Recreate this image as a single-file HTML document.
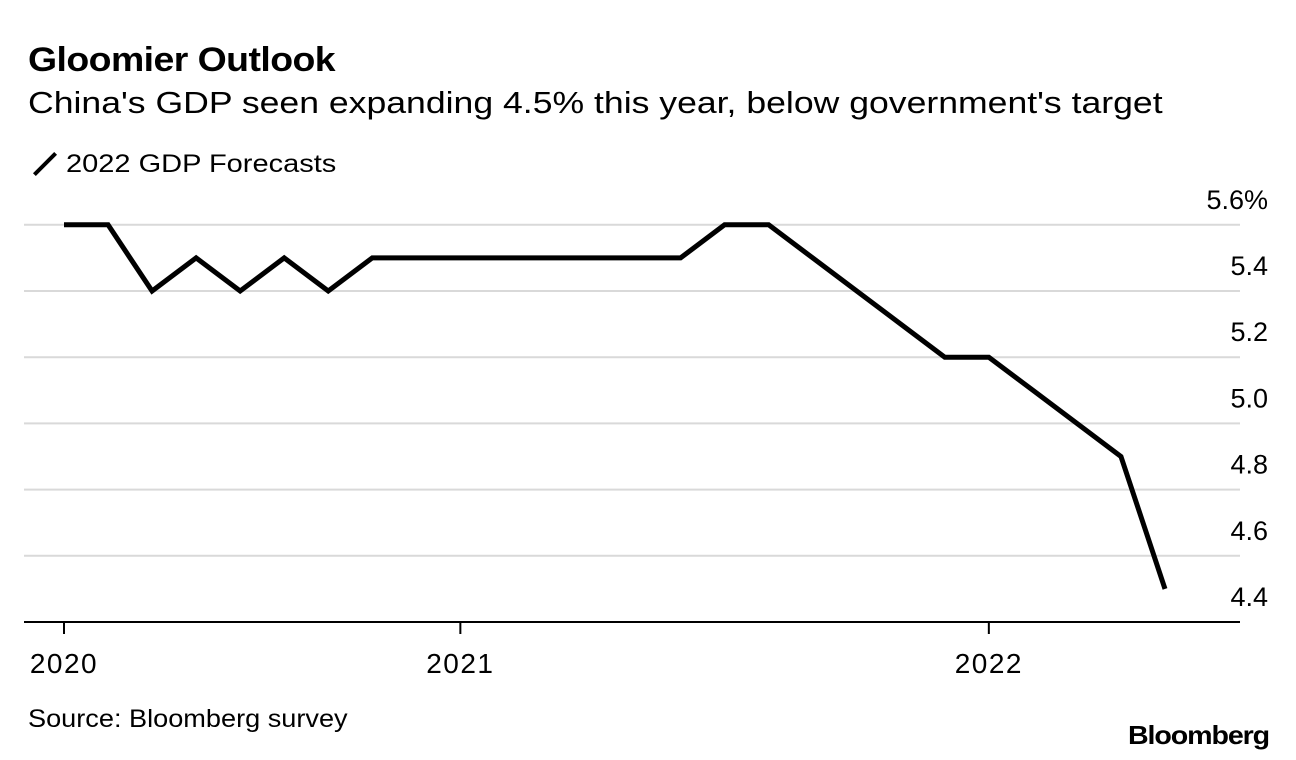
<!DOCTYPE html>
<html><head><meta charset="utf-8"><style>
body{margin:0;background:#fff;font-family:"Liberation Sans",Arial,sans-serif;}
#c{position:relative;width:1296px;height:760px;overflow:hidden;}
.t{position:absolute;white-space:nowrap;color:#000;transform-origin:0 0;}
</style></head><body>
<div id="c">
<div class="t" style="left:28px;top:41px;font-size:34px;font-weight:bold;letter-spacing:-0.5px;transform:scaleX(1.1)">Gloomier Outlook</div>
<div class="t" style="left:28px;top:85px;font-size:31px;transform:scaleX(1.148)">China's GDP seen expanding 4.5% this year, below government's target</div>
<div class="t" style="left:30px;top:162px;width:30px;height:4px;background:#000;transform:rotate(-45deg);transform-origin:50% 50%"></div>
<div class="t" style="left:66px;top:150px;font-size:25px;transform:scaleX(1.16)">2022 GDP Forecasts</div>
<svg id="svg" width="1296" height="760" style="position:absolute;left:0;top:0"></svg>
<div class="t" style="left:28px;top:705px;font-size:25px;transform:scaleX(1.085)">Source: Bloomberg survey</div>
<div class="t" style="left:1128px;top:720px;font-size:26px;font-weight:bold;letter-spacing:-1px;transform:scaleX(1.1)">Bloomberg</div>
</div>
<script>
const values=[5.6,5.6,5.4,5.5,5.4,5.5,5.4,5.5,5.5,5.5,5.5,5.5,5.5,5.5,5.5,5.6,5.6,5.5,5.4,5.3,5.2,5.2,5.1,5.0,4.9,4.5];
const yTicks=[5.6,5.4,5.2,5.0,4.8,4.6,4.4];
const yTickLabels=["5.6%","5.4","5.2","5.0","4.8","4.6","4.4"];
const xTickIdx=[0,9,21];
const xTickLabels=["2020","2021","2022"];
const NS="http://www.w3.org/2000/svg";
const svg=document.getElementById('svg');
const x=i=>64+i*44.04;
const y=v=>622-(v-4.4)/0.2*66.2;
function mk(tag,attrs){const e=document.createElementNS(NS,tag);for(const k in attrs)e.setAttribute(k,attrs[k]);svg.appendChild(e);return e;}
yTicks.forEach((v,i)=>{
 if(v>4.4){const g=mk('line',{x1:24,x2:1240,y1:y(v),y2:y(v),stroke:'#d9d9d9','stroke-width':2});
 
 }
 const t=mk('text',{x:1268,y:y(v)-16,'text-anchor':'end','font-size':27,'font-family':'Liberation Sans, Arial, sans-serif'});
 t.textContent=yTickLabels[i];
 
 
});
const ax=mk('line',{x1:24,x2:1240,y1:622,y2:622,stroke:'#000','stroke-width':2});


xTickIdx.forEach((ix,i)=>{
 const tk=mk('line',{x1:x(ix),x2:x(ix),y1:622,y2:634,stroke:'#000','stroke-width':2});
 
 
 const t=mk('text',{x:x(ix),y:673,'text-anchor':'middle','font-size':28,'letter-spacing':1.5,'font-family':'Liberation Sans, Arial, sans-serif'});
 t.textContent=xTickLabels[i];
 
 
});
const p=mk('polyline',{points:values.map((v,i)=>x(i)+','+y(v)).join(' '),fill:'none',stroke:'#000','stroke-width':5,'stroke-linejoin':'miter'});


</script>
</body></html>
